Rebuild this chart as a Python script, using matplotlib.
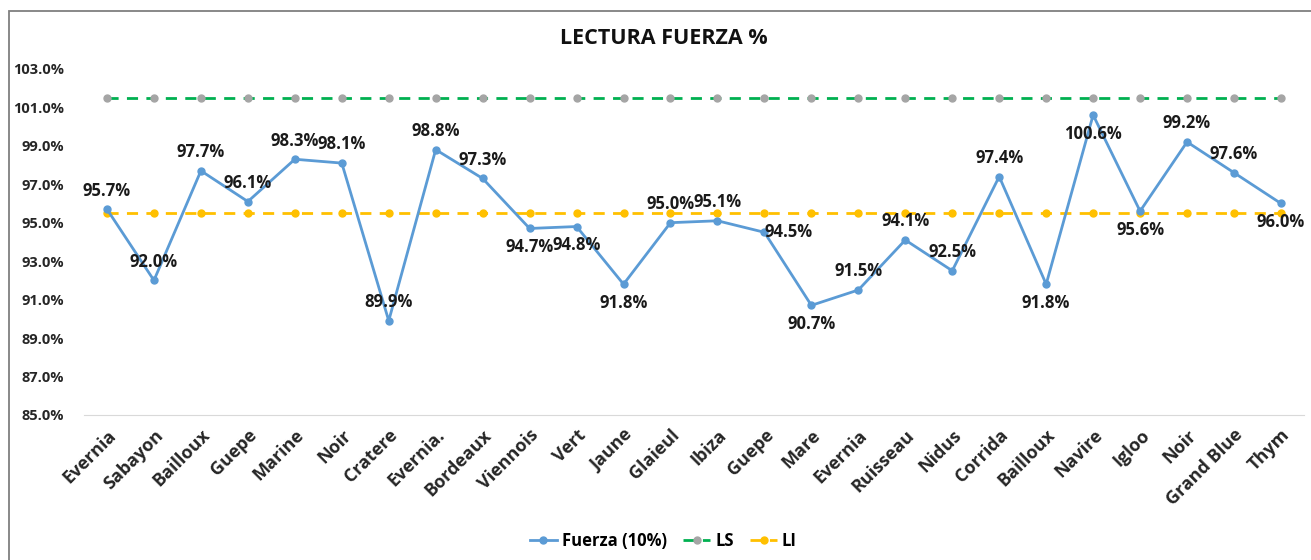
import matplotlib
matplotlib.use("Agg")
import matplotlib.pyplot as plt
from matplotlib.patches import Rectangle
from matplotlib.ticker import FuncFormatter

plt.rcParams['font.family'] = ['Open Sans', 'DejaVu Sans']

# data
categories = ["Evernia", "Sabayon", "Bailloux", "Guepe", "Marine", "Noir",
              "Cratere", "Evernia.", "Bordeaux", "Viennois", "Vert", "Jaune",
              "Glaieul", "Ibiza", "Guepe", "Mare", "Evernia", "Ruisseau",
              "Nidus", "Corrida", "Bailloux", "Navire", "Igloo", "Noir",
              "Grand Blue", "Thym"]
fuerza = [95.7, 92.0, 97.7, 96.1, 98.3, 98.1, 89.9, 98.8, 97.3, 94.7, 94.8,
          91.8, 95.0, 95.1, 94.5, 90.7, 91.5, 94.1, 92.5, 97.4, 91.8, 100.6,
          95.6, 99.2, 97.6, 96.0]
ls_value = 101.5
li_value = 95.5
# where each data label sits: 'a' above, 'b' below, 'r' right
label_pos = ['a', 'a', 'a', 'a', 'a', 'a', 'a', 'a', 'a', 'b', 'b', 'b', 'a',
             'a', 'r', 'b', 'a', 'a', 'a', 'a', 'b', 'b', 'b', 'a', 'a', 'b']

fig = plt.figure(figsize=(13.11, 5.6), dpi=100)
ax = fig.add_axes([0.0637, 0.259, 0.9313, 0.618])

x = list(range(len(categories)))
blue = '#5B9BD5'
ax.plot(x, [ls_value] * len(x), color='#00B050', lw=2, ls=(0, (4, 3)),
        marker='o', ms=5, mfc='#A5A5A5', mec='#A5A5A5', label='LS', zorder=2)
ax.plot(x, [li_value] * len(x), color='#FFC000', lw=2, ls=(0, (4, 3)),
        marker='o', ms=5, mfc='#FFC000', mec='#FFC000', label='LI', zorder=2)
ax.plot(x, fuerza, color=blue, lw=2, marker='o', ms=5, label='Fuerza (10%)',
        zorder=3)

for xi, v, p in zip(x, fuerza, label_pos):
    if p == 'a':
        off, va, ha = (0, 7), 'bottom', 'center'
    elif p == 'b':
        off, va, ha = (0, -7), 'top', 'center'
    else:
        off, va, ha = (0, 0), 'center', 'left'
    ax.annotate("%.1f%%" % v, (xi, v), xytext=off, textcoords='offset points',
                ha=ha, va=va, fontsize=12, fontweight='bold', color='#1a1a1a',
                zorder=4)

ax.set_xlim(-0.5, len(categories) - 0.5)
ax.set_ylim(85, 103)
ax.set_yticks([85, 87, 89, 91, 93, 95, 97, 99, 101, 103])
ax.yaxis.set_major_formatter(FuncFormatter(lambda v, _: "%.1f%%" % v))
ax.set_xticks(x)
ax.set_xticklabels(categories, rotation=45, ha='right',
                   rotation_mode='anchor', fontsize=13, fontweight='bold')
for t in ax.get_yticklabels():
    t.set_fontweight('bold')
    t.set_fontsize(10.5)
ax.tick_params(axis='both', length=0, colors='#262626')
ax.tick_params(axis='y', pad=14)
ax.tick_params(axis='x', pad=8)

for s in ['top', 'right', 'left']:
    ax.spines[s].set_visible(False)
ax.spines['bottom'].set_color('#D9D9D9')

fig.text(0.506, 0.932, "LECTURA FUERZA %", ha='center', va='center',
         fontsize=15.5, fontweight='bold', color='#111111')

# chart-area border (extends beyond bottom/right of the image)
fig.patches.append(Rectangle((9 / 1311, -0.05), 1.1, 0.05 + (560 - 11) / 560,
                             transform=fig.transFigure, fill=False,
                             edgecolor='#7F7F7F', lw=1.3))

handles, labels = ax.get_legend_handles_labels()
order = [2, 0, 1]
leg = fig.legend([handles[i] for i in order], [labels[i] for i in order],
                 loc='center', bbox_to_anchor=(0.506, 0.034), ncol=3,
                 frameon=False, prop={'weight': 'bold', 'size': 12},
                 handlelength=1.6, columnspacing=1.0, handletextpad=0.3)

fig.savefig("out.png", dpi=100)
